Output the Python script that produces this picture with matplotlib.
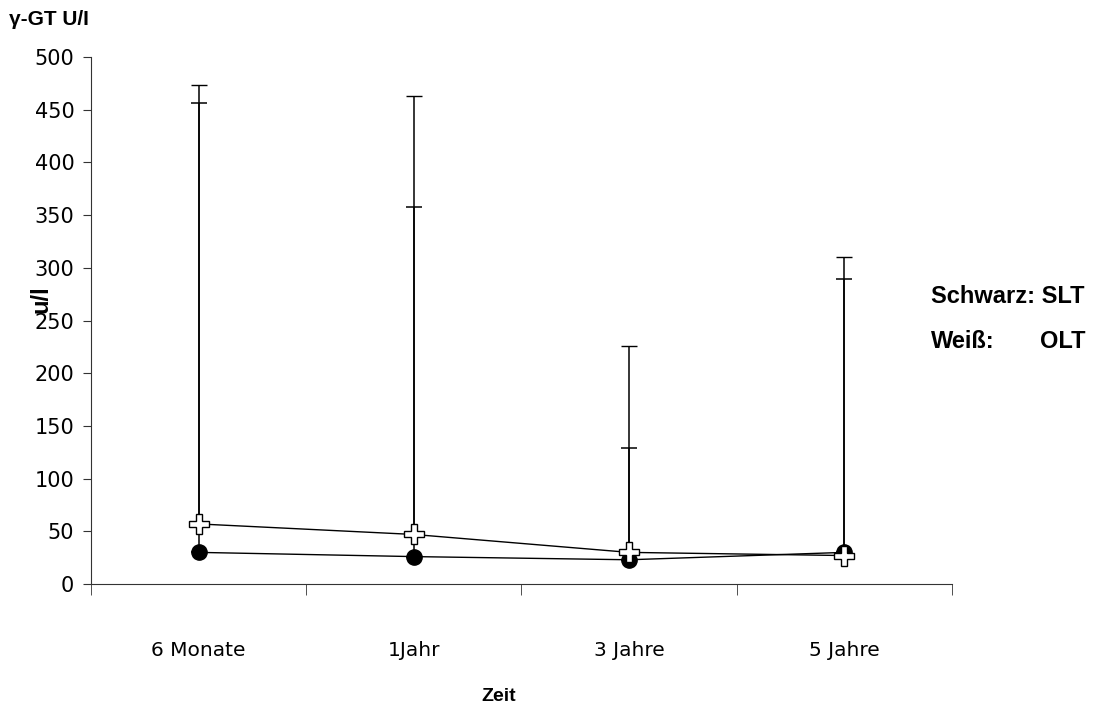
import numpy as np
import matplotlib
matplotlib.use("Agg")
import matplotlib.pyplot as plt

# data
categories = ["6 Monate", "1Jahr", "3 Jahre", "5 Jahre"]
slt_mean = [30, 26, 23, 30]      # black (SLT)
olt_mean = [57, 47, 30, 27]      # white (OLT)
slt_upper = [456, 358, 129, 289]
olt_upper = [473, 463, 226, 310]
y_ticks = [0, 50, 100, 150, 200, 250, 300, 350, 400, 450, 500]

x = np.arange(len(categories))
slt_err = [np.zeros(len(x)), np.array(slt_upper) - np.array(slt_mean)]
olt_err = [np.zeros(len(x)), np.array(olt_upper) - np.array(olt_mean)]

fig = plt.figure(figsize=(10.96, 7.09), dpi=100)
ax = fig.add_axes([0.083, 0.1763, 0.7856, 0.7433])

ax.errorbar(x, slt_mean, yerr=slt_err, color="black", lw=1, ecolor="black",
            elinewidth=1.1, capsize=5.5, capthick=1.1,
            marker="o", ms=11, mfc="black", mec="black", zorder=3)
ax.errorbar(x, olt_mean, yerr=olt_err, color="black", lw=1, ecolor="black",
            elinewidth=1.1, capsize=5.5, capthick=1.1,
            marker="P", ms=14, mfc="white", mec="black", mew=1, zorder=4)

ax.set_xlim(-0.5, 3.5)
ax.set_ylim(0, 500)
ax.set_yticks(y_ticks)
ax.set_yticklabels([str(v) for v in y_ticks], fontsize=15, family="DejaVu Sans")
ax.set_xticks(x)
ax.set_xticklabels(categories, fontsize=14.5, family="DejaVu Sans")
ax.set_xticks(np.arange(-0.5, 4, 1), minor=True)
ax.tick_params(axis="x", which="major", length=0, pad=41)
ax.tick_params(axis="x", which="minor", length=8, direction="out", color="#333333")
ax.tick_params(axis="y", length=6, direction="out", color="#333333", pad=6)

for s in ["top", "right"]:
    ax.spines[s].set_visible(False)
for s in ["left", "bottom"]:
    ax.spines[s].set_color("#333333")

bold = dict(family="Liberation Sans", fontweight="bold")
fig.text(0.037, 0.578, "u/l", rotation=90, ha="center", va="center", fontsize=17, **bold)
fig.text(0.455, 0.017, "Zeit", ha="center", va="center", fontsize=14, **bold)
fig.text(0.008, 0.972, "\u03b3-GT U/I", ha="left", va="center", fontsize=15, **bold)
fig.text(0.849, 0.582, "Schwarz: SLT", ha="left", va="center", fontsize=17, **bold)
fig.text(0.849, 0.518, "Weiß:", ha="left", va="center", fontsize=17, **bold)
fig.text(0.990, 0.518, "OLT", ha="right", va="center", fontsize=17, **bold)

fig.savefig("out.png", dpi=100)
